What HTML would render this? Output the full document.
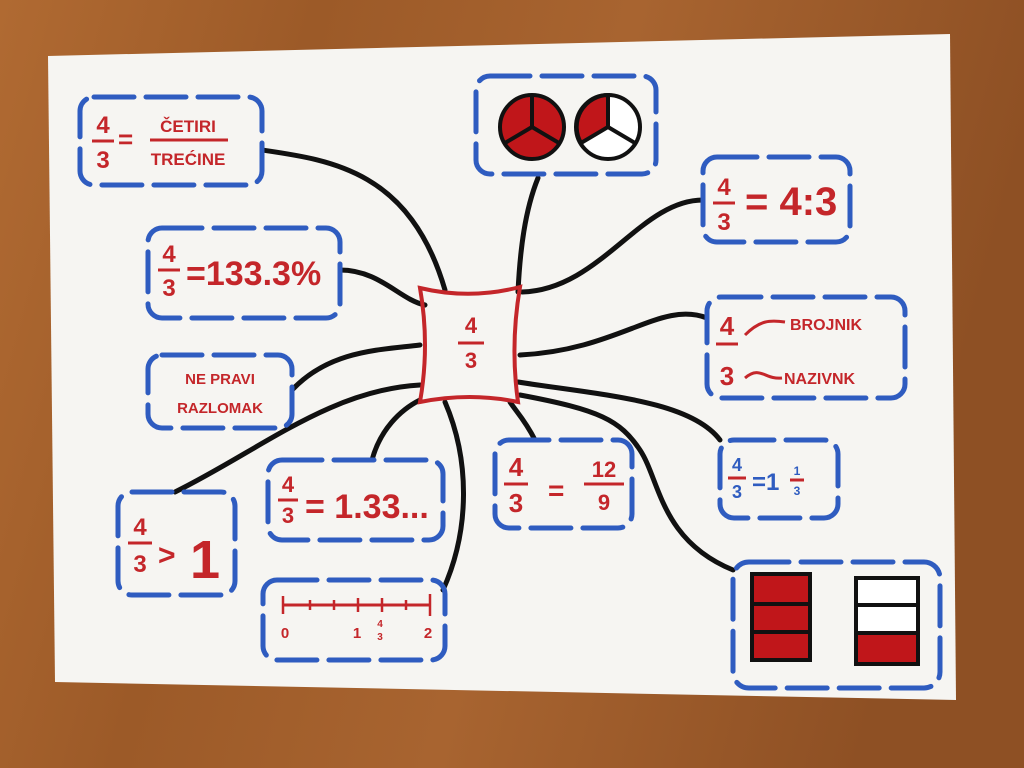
<!DOCTYPE html>
<html><head><meta charset="utf-8"><style>
html,body{margin:0;padding:0;width:1024px;height:768px;overflow:hidden;background:#a0602c}
svg{display:block}
text{font-family:"Liberation Sans",sans-serif;fill:#c4262a;font-weight:bold}
</style></head><body>
<svg width="1024" height="768" viewBox="0 0 1024 768">
<defs>
<linearGradient id="wood" x1="0" y1="0" x2="1" y2="0.2">
<stop offset="0" stop-color="#b06a32"/><stop offset="0.3" stop-color="#9c5a28"/><stop offset="0.6" stop-color="#a86430"/><stop offset="1" stop-color="#8e5024"/>
</linearGradient>
</defs>
<rect width="1024" height="768" fill="url(#wood)"/>
<polygon points="48,56 950,34 956,700 55,682" fill="#f6f5f2"/>
<g fill="none" stroke="#111" stroke-width="5" stroke-linecap="round">
<path d="M262,150 C330,160 410,170 445,290"/>
<path d="M538,178 C525,210 520,250 518,292"/>
<path d="M703,200 C640,200 600,290 522,292"/>
<path d="M340,270 C380,270 400,300 425,305"/>
<path d="M707,318 C660,300 620,350 520,355"/>
<path d="M292,390 C330,350 380,350 420,345"/>
<path d="M720,440 C690,400 600,395 518,382"/>
<path d="M175,492 C260,450 330,390 420,385"/>
<path d="M372,460 C380,430 400,410 420,400"/>
<path d="M535,440 C525,420 515,410 510,402"/>
<path d="M443,590 C470,530 470,460 445,402"/>
<path d="M733,570 C660,540 660,480 640,450 C620,420 600,410 520,395"/>
</g>
<g fill="none" stroke="#2f5cc0" stroke-width="5" stroke-linecap="round" stroke-dasharray="40 12">
<rect x="80" y="97" width="182" height="88" rx="14"/>
<rect x="476" y="76" width="180" height="98" rx="14"/>
<rect x="703" y="157" width="147" height="85" rx="14"/>
<rect x="148" y="228" width="192" height="90" rx="14"/>
<rect x="707" y="297" width="198" height="101" rx="14"/>
<rect x="148" y="355" width="144" height="73" rx="14"/>
<rect x="720" y="440" width="118" height="78" rx="14"/>
<rect x="268" y="460" width="175" height="80" rx="14"/>
<rect x="495" y="440" width="137" height="88" rx="14"/>
<rect x="118" y="492" width="117" height="103" rx="14"/>
<rect x="263" y="580" width="182" height="80" rx="14"/>
<rect x="733" y="562" width="207" height="126" rx="16"/>
</g>
<path d="M420,288 Q470,300 520,287 Q510,345 518,402 Q470,392 420,402 Q430,345 420,288Z" fill="none" stroke="#c4262a" stroke-width="4"/>
<g stroke="#c4262a" stroke-width="3">
<line x1="458" y1="343" x2="484" y2="343"/>
<line x1="92" y1="141" x2="114" y2="141"/><line x1="150" y1="140" x2="228" y2="140"/>
<line x1="713" y1="203" x2="735" y2="203"/>
<line x1="158" y1="270" x2="180" y2="270"/>
<line x1="716" y1="344" x2="738" y2="344"/>
<line x1="728" y1="478" x2="746" y2="478"/><line x1="790" y1="480" x2="804" y2="480"/>
<line x1="278" y1="500" x2="298" y2="500"/>
<line x1="504" y1="484" x2="528" y2="484"/><line x1="584" y1="484" x2="624" y2="484"/>
<line x1="128" y1="543" x2="152" y2="543"/>
<line x1="283" y1="605" x2="430" y2="605"/>
</g>
<text x="471" y="333" font-size="22" text-anchor="middle">4</text>
<text x="471" y="368" font-size="22" text-anchor="middle">3</text>
<text x="103" y="133" font-size="24" text-anchor="middle">4</text><text x="103" y="168" font-size="24" text-anchor="middle">3</text>
<text x="118" y="148" font-size="26">=</text>
<text x="188" y="132" font-size="17" text-anchor="middle">ČETIRI</text>
<text x="188" y="165" font-size="17" text-anchor="middle">TREĆINE</text>
<text x="724" y="195" font-size="24" text-anchor="middle">4</text><text x="724" y="230" font-size="24" text-anchor="middle">3</text>
<text x="745" y="215" font-size="40">= 4:3</text>
<text x="169" y="262" font-size="24" text-anchor="middle">4</text><text x="169" y="296" font-size="24" text-anchor="middle">3</text>
<text x="186" y="285" font-size="34">=133.3%</text>
<text x="727" y="335" font-size="26" text-anchor="middle">4</text><text x="727" y="385" font-size="26" text-anchor="middle">3</text>
<text x="790" y="330" font-size="16">BROJNIK</text>
<text x="784" y="384" font-size="16">NAZIVNK</text>
<path d="M745,335 C760,320 770,320 785,322 M745,378 C760,365 765,380 782,378" stroke="#c4262a" stroke-width="3" fill="none"/>
<text x="220" y="384" font-size="15" text-anchor="middle">NE PRAVI</text>
<text x="220" y="413" font-size="15" text-anchor="middle">RAZLOMAK</text>
<g fill="#2f5cc0"><text x="737" y="471" font-size="18" text-anchor="middle" style="fill:#2f5cc0">4</text><text x="737" y="498" font-size="18" text-anchor="middle" style="fill:#2f5cc0">3</text>
<text x="752" y="490" font-size="24" style="fill:#2f5cc0">=1</text>
<text x="797" y="475" font-size="12" text-anchor="middle" style="fill:#2f5cc0">1</text><text x="797" y="495" font-size="12" text-anchor="middle" style="fill:#2f5cc0">3</text></g>
<text x="288" y="492" font-size="22" text-anchor="middle">4</text><text x="288" y="523" font-size="22" text-anchor="middle">3</text>
<text x="305" y="518" font-size="34" font-weight="normal">= 1.33...</text>
<text x="516" y="476" font-size="26" text-anchor="middle">4</text><text x="516" y="512" font-size="26" text-anchor="middle">3</text>
<text x="548" y="500" font-size="28">=</text>
<text x="604" y="477" font-size="22" text-anchor="middle">12</text><text x="604" y="510" font-size="22" text-anchor="middle">9</text>
<text x="140" y="535" font-size="24" text-anchor="middle">4</text><text x="140" y="572" font-size="24" text-anchor="middle">3</text>
<text x="158" y="565" font-size="30">&gt;</text>
<text x="190" y="578" font-size="54" font-weight="normal">1</text>
<g stroke="#c4262a" stroke-width="2.5">
<line x1="283" y1="596" x2="283" y2="614"/><line x1="430" y1="594" x2="430" y2="616"/>
<line x1="310" y1="600" x2="310" y2="610"/><line x1="334" y1="600" x2="334" y2="610"/><line x1="358" y1="598" x2="358" y2="612"/><line x1="382" y1="598" x2="382" y2="612"/><line x1="406" y1="600" x2="406" y2="610"/>
</g>
<text x="285" y="638" font-size="15" text-anchor="middle">0</text>
<text x="357" y="638" font-size="15" text-anchor="middle">1</text>
<text x="380" y="627" font-size="10" text-anchor="middle">4</text><text x="380" y="640" font-size="10" text-anchor="middle">3</text>
<text x="428" y="638" font-size="15" text-anchor="middle">2</text>
<g stroke="#111" stroke-width="4">
<circle cx="532" cy="127" r="32" fill="#c0161a"/>
<line x1="532" y1="127" x2="532" y2="95"/><line x1="532" y1="127" x2="505" y2="143"/><line x1="532" y1="127" x2="559" y2="143"/>
<circle cx="608" cy="127" r="32" fill="#fff"/>
<path d="M608,127 L608,95 A32,32 0 0 0 581,143 Z" fill="#c0161a"/>
<line x1="608" y1="127" x2="635" y2="143"/>
<rect x="752" y="574" width="58" height="86" fill="#c0161a"/>
<line x1="752" y1="604" x2="810" y2="604"/><line x1="752" y1="632" x2="810" y2="632"/>
<rect x="856" y="578" width="62" height="86" fill="#fff"/>
<rect x="856" y="633" width="62" height="31" fill="#c0161a"/>
<line x1="856" y1="605" x2="918" y2="605"/>
</g>
</svg>
</body></html>
